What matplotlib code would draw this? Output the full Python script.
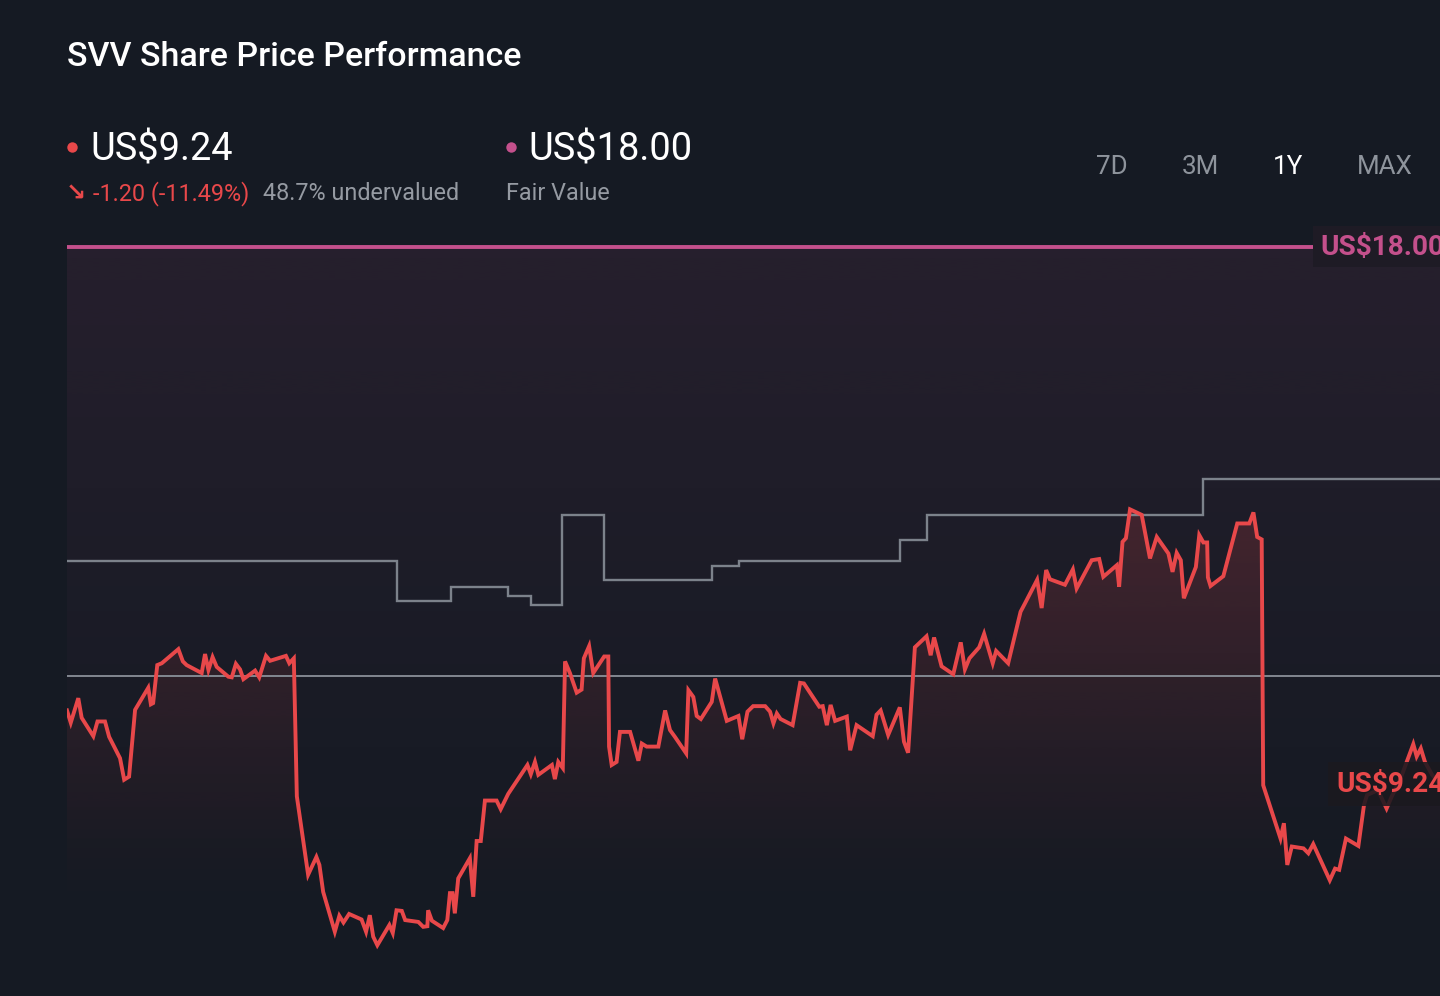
import numpy as np
import matplotlib
matplotlib.use("Agg")
import matplotlib.pyplot as plt
from matplotlib.patches import Polygon
from matplotlib.lines import Line2D
from matplotlib.colors import to_rgb

# ---------------- data ----------------
days = [0.0, 1.0, 3.0, 3.9, 7.0, 8.1, 10.1, 11.2, 14.1, 15.2, 16.5, 18.1, 21.6, 22.3, 22.9,
        24.0, 25.2, 29.6, 30.8, 31.8, 35.8, 36.7, 37.6, 38.7, 39.8, 42.9, 43.8, 44.9, 46.0,
        46.9, 50.0, 51.1, 52.9, 54.0, 58.2, 59.1, 60.3, 61.1, 64.1, 66.3, 67.1, 68.1, 71.2,
        72.4, 73.5, 75.0, 78.3, 79.5, 80.5, 81.4, 82.5, 85.7, 86.6, 87.6, 89.0, 89.9, 93.4,
        94.7, 95.8, 96.0, 97.0, 100.0, 101.1, 101.8, 102.5, 103.1, 104.0, 107.1, 108.0,
        108.9, 110.0, 111.1, 114.2, 115.3, 117.3, 122.4, 123.3, 124.4, 125.3, 128.9, 129.7,
        130.6, 131.8, 132.4, 133.7, 135.5, 136.8, 137.4, 138.8, 139.9, 142.8, 143.9, 144.1,
        144.8, 146.1, 147.0, 149.7, 151.9, 152.8, 154.1, 157.2, 159.0, 160.3, 161.6, 164.6,
        165.2, 166.5, 167.4, 168.5, 171.4, 172.3, 175.4, 178.5, 179.5, 180.9, 182.4, 185.6,
        186.9, 187.8, 188.7, 189.7, 192.9, 194.9, 195.9, 200.0, 200.9, 202.0, 203.0, 204.2,
        207.3, 208.2, 209.9, 214.2, 215.2, 216.3, 218.3, 221.4, 222.5, 223.6, 225.4, 228.5,
        229.6, 230.5, 232.5, 235.6, 237.6, 238.7, 239.9, 242.5, 243.8, 246.1, 247.0, 250.2,
        253.5, 254.7, 257.9, 259.1, 260.3, 261.3, 265.3, 267.4, 268.4, 272.4, 274.4, 275.5,
        279.1, 279.7, 280.6, 281.5, 282.6, 285.7, 287.9, 289.7, 292.8, 293.9, 295.0, 296.1,
        296.9, 300.1, 301.0, 302.1, 303.1, 303.3, 304.0, 307.4, 311.1, 314.3, 315.4, 316.4,
        317.6, 318.0, 322.6, 323.5, 324.4, 325.6, 328.7, 330.0, 331.3, 335.7, 337.1, 338.2,
        340.0, 343.3, 344.8, 345.6, 348.5, 350.8, 352.2, 354.4, 357.9, 358.8, 359.9, 361.0,
        362.9, 365.0]

price = [10.44, 10.24, 10.64, 10.32, 10.02, 10.26, 10.26, 10.01, 9.66, 9.31, 9.36, 10.45,
         10.81, 10.54, 10.56, 11.18, 11.21, 11.44, 11.24, 11.18, 11.05, 11.36, 11.10, 11.31,
         11.15, 10.99, 10.98, 11.20, 11.11, 10.95, 11.09, 10.98, 11.33, 11.25, 11.33, 11.21,
         11.29, 9.04, 7.76, 8.05, 7.92, 7.48, 6.83, 7.09, 6.98, 7.12, 7.03, 6.83, 7.10, 6.75,
         6.61, 6.94, 6.81, 7.18, 7.17, 7.02, 6.99, 6.91, 6.92, 7.18, 7.01, 6.89, 7.02, 7.46,
         7.46, 7.13, 7.70, 8.03, 7.40, 8.31, 8.31, 8.97, 8.97, 8.83, 9.08, 9.55, 9.40, 9.60,
         9.39, 9.55, 9.32, 9.60, 9.50, 11.24, 11.05, 10.73, 10.78, 11.29, 11.49, 11.05, 11.32,
         11.32, 9.85, 9.55, 9.60, 10.09, 10.09, 9.62, 9.90, 9.85, 9.85, 10.44, 10.12, 10.01,
         9.74, 10.77, 10.66, 10.35, 10.30, 10.58, 10.96, 10.27, 10.35, 9.97, 10.42, 10.51,
         10.51, 10.42, 10.23, 10.39, 10.30, 10.20, 10.89, 10.88, 10.50, 10.51, 10.20, 10.53,
         10.27, 10.34, 9.79, 10.20, 10.02, 10.37, 10.44, 10.04, 10.49, 9.93, 9.75, 11.47,
         11.65, 11.34, 11.63, 11.16, 11.03, 11.55, 11.11, 11.29, 11.47, 11.69, 11.21, 11.41,
         11.21, 12.05, 12.19, 12.57, 12.11, 12.73, 12.58, 12.49, 12.74, 12.43, 12.89, 12.91,
         12.62, 12.81, 12.46, 13.19, 13.25, 13.72, 13.63, 12.92, 13.27, 13.00, 12.70, 13.01,
         12.89, 12.27, 12.78, 13.30, 13.18, 13.18, 12.61, 12.47, 12.63, 13.49, 13.49, 13.67,
         13.27, 13.23, 9.22, 8.35, 8.60, 7.92, 8.22, 8.19, 8.11, 8.26, 7.67, 7.86, 7.84, 8.35,
         8.23, 8.90, 9.06, 9.14, 8.84, 9.04, 9.31, 9.89, 9.69, 9.82, 9.60, 9.39, 9.24]

# step line (grey) : breakpoints (days) and levels
step_breaks = [0.0, 87.6, 102.0, 117.3, 123.3, 131.7, 142.8, 171.4, 178.6, 221.4, 228.7, 302.1, 365.0]
step_levels = [12.87, 12.22, 12.45, 12.30, 12.16, 13.62, 12.57, 12.80, 12.87, 13.22, 13.62, 14.22]

fair_value = 18.00
ref_level = 11.00
last_price = 9.24
change_txt = "-1.20 (-11.49%)"
under_txt = "48.7% undervalued"
tabs = ["7D", "3M", "1Y", "MAX"]
active_tab = "1Y"

# ---------------- style ----------------
BG = "#151a23"
RED = "#e8484a"
PINK = "#c4508c"
GREY_TXT = "#959aa2"
GREY_LINE = "#7c828b"
W, H = 1440, 996
FONT = ["Roboto", "DejaVu Sans"]

def px(v):
    return v * 0.72

fig = plt.figure(figsize=(W / 100, H / 100), dpi=100, facecolor=BG)

def fx(x):
    return x / W

def fy(y):
    return 1 - y / H

ax = fig.add_axes([fx(67), fy(960), (W - 67) / W, (960 - 230) / H])
ax.set_facecolor(BG)
ax.axis("off")
YMIN, YMAX = 6.369, 18.277
XMIN, XMAX = 0, 365

# fair value region gradient
pr, pg, pb = to_rgb(PINK)
g = np.linspace(1, 0, 256) ** 1.2
rgba = np.zeros((256, 1, 4))
rgba[..., 0], rgba[..., 1], rgba[..., 2] = pr, pg, pb
rgba[..., 3] = (0.10 * g)[:, None]
fv_bottom = 7.0
ax.imshow(rgba, extent=[XMIN, XMAX, fv_bottom, fair_value], aspect="auto",
          origin="upper", zorder=1, interpolation="bilinear")

# price fill gradient
rr, rg, rb = to_rgb(RED)
top = max(price)
g2 = np.linspace(1, 0, 256) ** 1.2
rgba2 = np.zeros((256, 1, 4))
rgba2[..., 0], rgba2[..., 1], rgba2[..., 2] = rr, rg, rb
rgba2[..., 3] = (0.19 * g2)[:, None]
im2 = ax.imshow(rgba2, extent=[XMIN, XMAX, fv_bottom, top], aspect="auto",
                origin="upper", zorder=2, interpolation="bilinear")
verts = [(days[0], fv_bottom)] + list(zip(days, price)) + [(days[-1], fv_bottom)]
poly = Polygon(verts, closed=True, facecolor="none", edgecolor="none")
ax.add_patch(poly)
im2.set_clip_path(poly)

# reference horizontal line
ax.axhline(ref_level, color="#8a9099", lw=1.3, zorder=3)

# step line
sx, sy = [], []
for i, lv in enumerate(step_levels):
    sx += [step_breaks[i], step_breaks[i + 1]]
    sy += [lv, lv]
ax.plot(sx, sy, color=GREY_LINE, lw=1.7, zorder=3, solid_joinstyle="miter")

# fair value line
ax.axhline(fair_value, color=PINK, lw=2.8, zorder=4)

# price line
ax.plot(days, price, color=RED, lw=2.8, zorder=5, solid_joinstyle="miter")

ax.set_xlim(XMIN, XMAX)
ax.set_ylim(YMIN, YMAX)

# right-hand value labels (clipped at the right edge, as in the source chart)
fig.text(fx(1320), fy(247), f"US${fair_value:.2f}", color=PINK, fontsize=px(28),
         fontweight="bold", family=FONT, va="center", ha="left", zorder=10,
         bbox=dict(boxstyle="square,pad=0.25", facecolor="#1e1b25", edgecolor="none"))
fig.text(fx(1336), fy(784), f"US${last_price:.2f}", color=RED, fontsize=px(28),
         fontweight="bold", family=FONT, va="center", ha="left", zorder=10,
         bbox=dict(boxstyle="square,pad=0.3", facecolor="#1b191f", edgecolor="none", alpha=0.88))

# ---------------- header ----------------
fig.text(fx(67), fy(66), "SVV Share Price Performance", color="white", fontsize=px(34),
         fontweight="medium", family=FONT, ha="left", va="baseline")

fig.add_artist(Line2D([fx(72)], [fy(147)], marker="o", markersize=7.5, color=RED,
                      markeredgewidth=0, transform=fig.transFigure))
fig.text(fx(90), fy(161), f"US${last_price:.2f}", color="white", fontsize=px(38),
         family=FONT, ha="left", va="baseline")
fig.text(fx(66), fy(201), "\u2198", color=RED, fontsize=px(24), family=["DejaVu Sans"],
         ha="left", va="baseline", fontweight="bold")
fig.text(fx(93), fy(200), change_txt, color=RED, fontsize=px(23.4), family=FONT,
         ha="left", va="baseline")
fig.text(fx(263), fy(200), under_txt, color=GREY_TXT, fontsize=px(23.4), family=FONT,
         ha="left", va="baseline")

fig.add_artist(Line2D([fx(511)], [fy(147)], marker="o", markersize=7.5, color=PINK,
                      markeredgewidth=0, transform=fig.transFigure))
fig.text(fx(528), fy(161), f"US${fair_value:.2f}", color="white", fontsize=px(38),
         family=FONT, ha="left", va="baseline")
fig.text(fx(506), fy(200), "Fair Value", color=GREY_TXT, fontsize=px(23.4), family=FONT,
         ha="left", va="baseline")

tab_x = [1112, 1200, 1288, 1385]
for t, x in zip(tabs, tab_x):
    fig.text(fx(x), fy(174), t, color="white" if t == active_tab else "#8e949c",
             fontsize=px(26), family=FONT, ha="center", va="baseline")

fig.savefig("out.png", dpi=100, facecolor=BG)
